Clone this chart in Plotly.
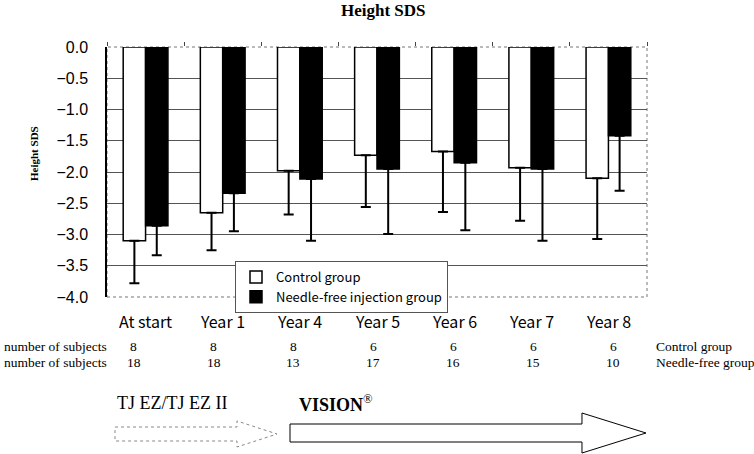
import plotly.graph_objects as go

# values
categories = ["At start", "Year 1", "Year 4", "Year 5", "Year 6", "Year 7", "Year 8"]
control_sds = [-3.10, -2.65, -1.98, -1.73, -1.67, -1.93, -2.10]
control_sd = [0.68, 0.60, 0.70, 0.83, 0.97, 0.85, 0.97]
needle_sds = [-2.86, -2.34, -2.11, -1.95, -1.85, -1.95, -1.42]
needle_sd = [0.47, 0.61, 0.99, 1.04, 1.08, 1.15, 0.88]
n_control = [8, 8, 8, 6, 6, 6, 6]
n_needle = [18, 18, 13, 17, 16, 15, 10]

W, H = 754, 454
L, R, T, B = 107, 647, 47, 297  # plot area in pixels

SERIF = "Liberation Serif, Times New Roman, serif"
GOTHIC = "Noto Sans CJK JP, sans-serif"


def px(x, y):
    """pixel -> paper coordinates"""
    return (x - L) / (R - L), (B - y) / (B - T)


def path(points):
    pts = [px(x, y) for x, y in points]
    return "M " + " L ".join(f"{a:.4f},{b:.4f}" for a, b in pts) + " Z"


def label(text, x, y, size=13.5, family=SERIF, xanchor="center", **kw):
    return dict(text=text, xref="paper", yref="paper", x=px(x, 0)[0], y=px(0, y)[1],
                xanchor=xanchor, yanchor="middle", showarrow=False,
                font=dict(family=family, size=size, color="black"), **kw)


fig = go.Figure()
fig.add_trace(go.Bar(
    x=categories, y=control_sds, name="Control group",
    marker=dict(color="white", line=dict(color="black", width=1.5)),
    error_y=dict(type="data", symmetric=False, array=[0] * len(categories),
                 arrayminus=control_sd, color="black", thickness=2, width=5),
))
fig.add_trace(go.Bar(
    x=categories, y=needle_sds, name="Needle-free injection group",
    marker=dict(color="black", line=dict(color="black", width=1.5)),
    error_y=dict(type="data", symmetric=False, array=[0] * len(categories),
                 arrayminus=needle_sd, color="black", thickness=2, width=5),
))

annotations = [
    label("<b>Height SDS</b>", 383, 10, size=17),
    label("<b>Height SDS</b>", 34, 154, size=11, textangle=-90),
]
for i, c in enumerate(categories):
    annotations.append(dict(text=c, x=c, xref="x", yref="paper", y=px(0, 321)[1],
                            xanchor="center", yanchor="middle", showarrow=False,
                            font=dict(family=GOTHIC, size=16, color="black")))
    # the subject counts are typed slightly off the category centres
    shift = -12 + 2.8 * i
    for n, y in [(n_control[i], 346), (n_needle[i], 362)]:
        annotations.append(dict(text=str(n), x=c, xref="x", yref="paper",
                                y=px(0, y)[1], xshift=shift, xanchor="center",
                                yanchor="middle", showarrow=False,
                                font=dict(family=SERIF, size=13.5, color="black")))
for y, side in [(346, "Control group"), (362, "Needle-free group")]:
    annotations.append(label("number of subjects", 2, y, xanchor="left"))
    annotations.append(label(side, 654, y, xanchor="left"))
annotations.append(label("TJ EZ/TJ EZ II", 115, 403, size=18, xanchor="left"))
annotations.append(label("<b>VISION</b><sup>®</sup>", 297, 403, size=18, xanchor="left"))

shapes = [
    # dotted frame round the plot area
    dict(type="rect", xref="paper", yref="paper", x0=0, y0=0, x1=1, y1=1,
         line=dict(color="#777", width=1, dash="dot"), layer="below"),
    # device arrows
    dict(type="path", xref="paper", yref="paper",
         path=path([(115, 427), (237, 427), (237, 421), (277, 434), (237, 447), (237, 441), (115, 441)]),
         line=dict(color="#888", width=1, dash="dot"), fillcolor="white"),
    dict(type="path", xref="paper", yref="paper",
         path=path([(290, 424), (582, 424), (582, 413), (646, 433), (582, 453), (582, 442), (290, 442)]),
         line=dict(color="black", width=1), fillcolor="white"),
]

fig.update_layout(
    width=W, height=H,
    margin=dict(l=L, r=W - R, t=T, b=H - B),
    paper_bgcolor="white", plot_bgcolor="white",
    barmode="group", bargap=0.42, bargroupgap=0,
    showlegend=True,
    legend=dict(x=px(235, 0)[0], y=px(0, 261)[1], xanchor="left", yanchor="top",
                bgcolor="white", bordercolor="#555", borderwidth=1,
                font=dict(family=GOTHIC, size=13, color="black"),
                itemwidth=30, tracegroupgap=0),
    annotations=annotations,
    shapes=shapes,
)
fig.update_xaxes(type="category", side="top", showticklabels=False, ticks="outside",
                 tickson="boundaries", ticklen=4, tickcolor="#444", showgrid=False,
                 showline=False, zeroline=False)
fig.update_yaxes(range=[-4, 0], dtick=0.5, tick0=0, tickformat=".1f",
                 showgrid=True, gridcolor="#555", gridwidth=1, zeroline=False,
                 showline=True, linecolor="black", linewidth=1.5, ticks="",
                 ticklabelstandoff=14,
                 tickfont=dict(family="Liberation Sans, Arial, sans-serif", size=16, color="black"))

# drop the browser's default page margin so the figure sits at the window corner
fig.write_html("out.html", config={"displayModeBar": False},
               post_script="document.body.style.margin = '0';")
